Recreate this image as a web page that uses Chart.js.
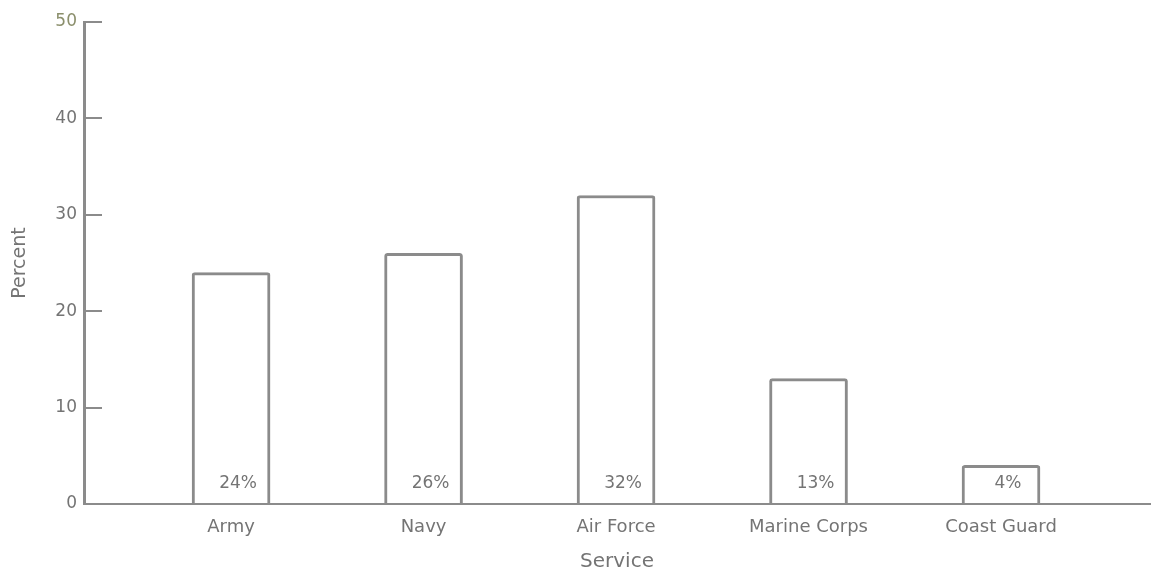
<!DOCTYPE html>
<html>
<head>
<meta charset="utf-8">
<script src="https://cdn.jsdelivr.net/npm/chart.js@4"></script>
<style>
  html, body { margin: 0; padding: 0; background: #fff; }
  #wrap { width: 1153px; height: 572px; }
</style>
</head>
<body>
<div id="wrap"><canvas id="serviceChart"></canvas></div>
<script>
const services = ["Army", "Navy", "Air Force", "Marine Corps", "Coast Guard"];
const percents = [24, 26, 32, 13, 4];
const yTicks = [0, 10, 20, 30, 40, 50];

const lineGray = "#8b8b8b";
const textGray = "#747474";
const fontFamily = "'DejaVu Sans', Verdana, sans-serif";

// percent value written inside each bar, near its base
const barLabels = {
  id: "barLabels",
  afterDatasetsDraw(chart) {
    const { ctx } = chart;
    const yScale = chart.scales.y;
    const meta = chart.getDatasetMeta(0);
    ctx.save();
    ctx.font = "17px " + fontFamily;
    ctx.fillStyle = textGray;
    ctx.textAlign = "center";
    ctx.textBaseline = "middle";
    meta.data.forEach((bar, i) => {
      ctx.fillText(percents[i] + "%", bar.x + 7, yScale.getPixelForValue(0) - 20);
    });
    ctx.restore();
  }
};

new Chart(document.getElementById("serviceChart"), {
  type: "bar",
  data: {
    datasets: [{
      data: percents.map((p, i) => ({ x: i + 1, y: p })),
      backgroundColor: "#ffffff",
      borderColor: lineGray,
      borderWidth: 3,
      borderSkipped: "bottom",
      borderRadius: 3,
      barThickness: 78
    }]
  },
  options: {
    responsive: true,
    maintainAspectRatio: false,
    animation: false,
    layout: { padding: { top: 0, right: 3, left: 0, bottom: 0 } },
    plugins: {
      legend: { display: false },
      tooltip: { enabled: false }
    },
    scales: {
      x: {
        type: "linear",
        offset: false,
        min: 0.236,
        max: 5.774,
        afterFit: (scale) => { scale.height = 68; },
        grid: { display: false },
        border: { color: lineGray, width: 2 },
        ticks: {
          stepSize: 1,
          includeBounds: false,
          autoSkip: false,
          maxRotation: 0,
          padding: 5,
          color: textGray,
          font: { family: fontFamily, size: 18 },
          callback: (v) => (Number.isInteger(v) && v >= 1 && v <= services.length) ? services[v - 1] : ""
        },
        title: {
          display: true,
          text: "Service",
          color: textGray,
          font: { family: fontFamily, size: 20 },
          padding: { top: 0, bottom: -2 }
        }
      },
      y: {
        min: 0,
        max: 50,
        afterBuildTicks: (scale) => { scale.ticks = yTicks.map((v) => ({ value: v })); },
        afterFit: (scale) => {
          scale.width = 84;
          scale.paddingTop = 22;
          scale.paddingBottom = 0;
        },
        grid: {
          drawOnChartArea: false,
          color: lineGray,
          lineWidth: 2,
          tickLength: -18
        },
        border: { color: lineGray, width: 3 },
        ticks: {
          padding: 25,
          color: (c) => c.tick && c.tick.value === 50 ? "#8b8f6c" : textGray,
          font: { family: fontFamily, size: 17 }
        },
        title: {
          display: true,
          text: "Percent",
          color: textGray,
          font: { family: fontFamily, size: 19 },
          padding: { top: 9, bottom: 0 }
        }
      }
    }
  },
  plugins: [barLabels]
});
</script>
</body>
</html>
